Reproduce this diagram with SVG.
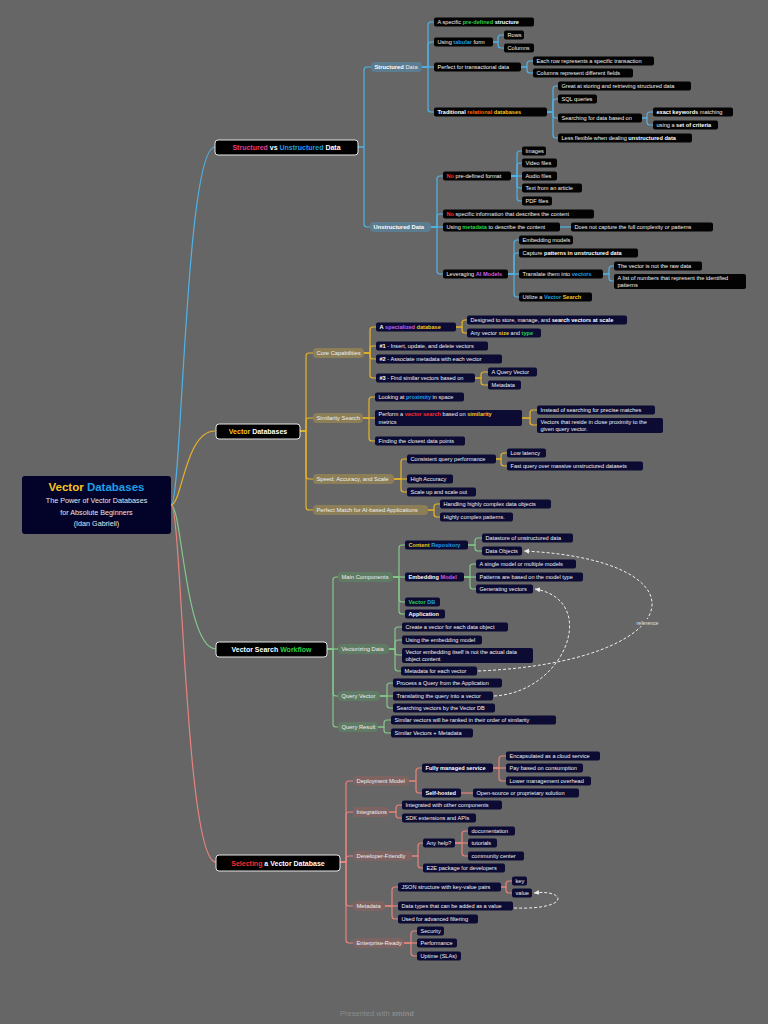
<svg xmlns="http://www.w3.org/2000/svg" width="768" height="1024" viewBox="0 0 768 1024">
<style>
.t{font-family:"Liberation Sans",Arial,sans-serif;font-size:5.6px;fill:#f2f2f2}
.p{font-family:"Liberation Sans",Arial,sans-serif;font-size:5.8px;fill:#eeeeee}
.m{font-family:"Liberation Sans",Arial,sans-serif;font-size:7px;font-weight:bold;fill:#ffffff}
.b{font-weight:bold;fill:#ffffff}
.cy{fill:#f7c51e;font-weight:bold}
.cb{fill:#1e9fe6;font-weight:bold}
.cg{fill:#2bd14a;font-weight:bold}
.cr{fill:#ff2d2d;font-weight:bold}
.co{fill:#ff6a00;font-weight:bold}
.cp{fill:#c65ee6;font-weight:bold}
.cm{fill:#e23c85;font-weight:bold}
rect.k{fill:#030303;rx:2px}
rect.v{fill:#0b0b33;rx:2px}
rect.top{fill:#000;stroke:#e6e6e6;stroke-width:1;rx:3px}
rect.pb{fill:#5c7c90;rx:4px}
rect.py{fill:#8c7e57;rx:4px}
rect.pg{fill:#5f7b63;rx:4px}
rect.pr{fill:#7d6463;rx:4px}
.cn path{fill:none;stroke-width:1.2}
.lb path{stroke:#4fb3e8}
.ly path{stroke:#e6b325}
.lg path{stroke:#83c98c}
.lr path{stroke:#e8837d}
.rel path{fill:none;stroke:#eeeeee;stroke-width:1;stroke-dasharray:3 2}
</style>
<defs>
<marker id="ah" markerWidth="6" markerHeight="6" refX="5" refY="3" orient="auto" markerUnits="userSpaceOnUse">
<path d="M0,0.5 L5,3 L0,5.5 Z" fill="#eeeeee"/>
</marker>
</defs>
<rect x="0" y="0" width="768" height="1024" fill="#666666"/>

<g id="connectors" class="cn">
<g class="lb">
<path d="M171,505 C182,505 185,147 215,147"/>
<path d="M358,147 H364 V70 Q364,67 367,67 H371"/>
<path d="M358,147 H364 V224 Q364,227 367,227 H370"/>
<path d="M422,67 H428 V25 Q428,22 431,22 H434"/>
<path d="M422,67 H428 V45 Q428,42 431,42 H434"/>
<path d="M422,67 H434"/>
<path d="M422,67 H428 V109 Q428,112 431,112 H434"/>
<path d="M493,42 H498 V38 Q498,35 501,35 H504"/>
<path d="M493,42 H498 V45 Q498,48 501,48 H504"/>
<path d="M521,67 H527 V64 Q527,61 530,61 H533"/>
<path d="M521,67 H527 V70 Q527,73 530,73 H533"/>
<path d="M547,112 H553 V89 Q553,86 556,86 H558"/>
<path d="M547,112 H553 V102 Q553,99 556,99 H558"/>
<path d="M547,112 H553 V115 Q553,118 556,118 H558"/>
<path d="M547,112 H553 V135 Q553,138 556,138 H558"/>
<path d="M642,118 H647 V115 Q647,112 650,112 H653"/>
<path d="M642,118 H647 V122 Q647,125 650,125 H653"/>
<path d="M431,227 H437 V179 Q437,176 440,176 H443"/>
<path d="M431,227 H437 V217 Q437,214 440,214 H443"/>
<path d="M431,227 H443"/>
<path d="M431,227 H437 V271 Q437,274 440,274 H443"/>
<path d="M511,176 H517 V154 Q517,151 520,151 H522"/>
<path d="M511,176 H517 V166 Q517,163 520,163 H522"/>
<path d="M511,176 H522"/>
<path d="M511,176 H517 V185 Q517,188 520,188 H522"/>
<path d="M511,176 H517 V198 Q517,201 520,201 H522"/>
<path d="M560,227 H571"/>
<path d="M508,274 H514 V243 Q514,240 517,240 H519"/>
<path d="M508,274 H514 V256 Q514,253 517,253 H519"/>
<path d="M508,274 H519"/>
<path d="M508,274 H514 V294 Q514,297 517,297 H519"/>
<path d="M603,274 H609 V269 Q609,266 612,266 H614"/>
<path d="M603,274 H609 V278 Q609,281 612,281 H614"/>
</g>
<g class="ly">
<path d="M171,505 C182,505 185,431 215,431"/>
<path d="M300,431 H306 V356 Q306,353 309,353 H313"/>
<path d="M300,431 H306 V421 Q306,418 309,418 H313"/>
<path d="M300,431 H306 V476 Q306,479 309,479 H313"/>
<path d="M300,431 H306 V507 Q306,510 309,510 H313"/>
<path d="M364,353 H370 V330 Q370,327 373,327 H376"/>
<path d="M364,353 H370 V349 Q370,346 373,346 H376"/>
<path d="M364,353 H370 V356 Q370,359 373,359 H376"/>
<path d="M364,353 H370 V375 Q370,378 373,378 H376"/>
<path d="M456,327 H462 V323 Q462,320 465,320 H467"/>
<path d="M456,327 H462 V330 Q462,333 465,333 H467"/>
<path d="M475,378 H481 V375 Q481,372 484,372 H488"/>
<path d="M475,378 H481 V382 Q481,385 484,385 H488"/>
<path d="M363,418 H369 V400 Q369,397 372,397 H375"/>
<path d="M363,418 H375"/>
<path d="M363,418 H369 V438 Q369,441 372,441 H375"/>
<path d="M522,418 H530 V413 Q530,410 533,410 H537"/>
<path d="M522,418 H530 V422 Q530,425 533,425 H537"/>
<path d="M394,479 H401 V462 Q401,459 404,459 H407"/>
<path d="M394,479 H407"/>
<path d="M394,479 H401 V489 Q401,492 404,492 H407"/>
<path d="M496,459 H501 V456 Q501,453 504,453 H507"/>
<path d="M496,459 H501 V463 Q501,466 504,466 H507"/>
<path d="M428,510 H434 V507 Q434,504 437,504 H440"/>
<path d="M428,510 H434 V514 Q434,517 437,517 H440"/>
</g>
<g class="lg">
<path d="M171,505 C182,505 185,649 216,649"/>
<path d="M327,649 H333 V580 Q333,577 336,577 H338"/>
<path d="M327,649 H338"/>
<path d="M327,649 H333 V693 Q333,696 336,696 H338"/>
<path d="M327,649 H333 V724 Q333,727 336,727 H338"/>
<path d="M393,577 H399 V548 Q399,545 402,545 H405"/>
<path d="M393,577 H405"/>
<path d="M393,577 H399 V599 Q399,602 402,602 H405"/>
<path d="M393,577 H399 V611 Q399,614 402,614 H405"/>
<path d="M468,545 H475 V541 Q475,538 478,538 H482"/>
<path d="M468,545 H475 V548 Q475,551 478,551 H482"/>
<path d="M464,577 H470 V567 Q470,564 473,564 H476"/>
<path d="M464,577 H476"/>
<path d="M464,577 H470 V586 Q470,589 473,589 H476"/>
<path d="M389,649 H395 V630 Q395,627 398,627 H402"/>
<path d="M389,649 H395 V643 Q395,640 398,640 H402"/>
<path d="M389,649 H395 V652 Q395,655 398,655 H402"/>
<path d="M389,649 H395 V668 Q395,671 398,671 H401"/>
<path d="M380,696 H387 V686 Q387,683 390,683 H393"/>
<path d="M380,696 H393"/>
<path d="M380,696 H387 V705 Q387,708 390,708 H393"/>
<path d="M378,727 H384 V723 Q384,720 387,720 H391"/>
<path d="M378,727 H384 V730 Q384,733 387,733 H391"/>
</g>
<g class="lr">
<path d="M171,505 C182,505 185,862 216,862"/>
<path d="M340,862 H346 V784 Q346,781 349,781 H353"/>
<path d="M340,862 H346 V815 Q346,812 349,812 H353"/>
<path d="M340,862 H346 V859 Q346,856 349,856 H353"/>
<path d="M340,862 H346 V903 Q346,906 349,906 H353"/>
<path d="M340,862 H346 V940 Q346,943 349,943 H353"/>
<path d="M409,781 H416 V771 Q416,768 419,768 H422"/>
<path d="M409,781 H416 V790 Q416,793 419,793 H422"/>
<path d="M493,768 H499 V759 Q499,756 502,756 H506"/>
<path d="M493,768 H506"/>
<path d="M493,768 H499 V778 Q499,781 502,781 H506"/>
<path d="M461,793 H473"/>
<path d="M389,812 H396 V808 Q396,805 399,805 H402"/>
<path d="M389,812 H396 V815 Q396,818 399,818 H402"/>
<path d="M412,856 H418 V846 Q418,843 421,843 H423"/>
<path d="M412,856 H418 V865 Q418,868 421,868 H423"/>
<path d="M455,843 H462 V834 Q462,831 465,831 H468"/>
<path d="M455,843 H468"/>
<path d="M455,843 H462 V853 Q462,856 465,856 H468"/>
<path d="M385,906 H392 V890 Q392,887 395,887 H398"/>
<path d="M385,906 H398"/>
<path d="M385,906 H392 V916 Q392,919 395,919 H398"/>
<path d="M501,887 H506 V884 Q506,881 509,881 H512"/>
<path d="M501,887 H506 V890 Q506,893 509,893 H512"/>
<path d="M404,943 H411 V934 Q411,931 414,931 H417"/>
<path d="M404,943 H417"/>
<path d="M404,943 H411 V953 Q411,956 414,956 H417"/>
</g>
</g>

<g id="relations" class="rel">
<path d="M478,671 C690,662 712,560 524,551" marker-end="url(#ah)"/>
<path d="M494,696 C566,692 600,600 535,589" marker-end="url(#ah)"/>
<path d="M514,908 C572,910 566,889 534,893" marker-end="url(#ah)"/>
<rect x="634" y="619" width="27" height="7" fill="#666666"/>
<text x="647.5" y="624.5" text-anchor="middle" style="font-family:'Liberation Sans',Arial,sans-serif;font-size:5.2px;fill:#e0e0e0">reference</text>
</g>

<g id="root">
<rect x="22" y="476" width="149" height="58" rx="3" fill="#03032a"/>
<text x="96.5" y="491" text-anchor="middle" style="font-family:'Liberation Sans',Arial,sans-serif;font-size:11.5px;font-weight:bold"><tspan fill="#f7c51e">Vector</tspan><tspan fill="#1e9fe6"> Databases</tspan></text>
<text x="96.5" y="502.5" text-anchor="middle" style="font-family:'Liberation Sans',Arial,sans-serif;font-size:7.2px;fill:#e8e8e8">The Power of Vector Databases</text>
<text x="96.5" y="514.5" text-anchor="middle" style="font-family:'Liberation Sans',Arial,sans-serif;font-size:7.2px;fill:#e8e8e8">for Absolute Beginners</text>
<text x="96.5" y="525.5" text-anchor="middle" style="font-family:'Liberation Sans',Arial,sans-serif;font-size:7.2px;fill:#e8e8e8">(Idan Gabrieli)</text>
</g>

<g id="t-structured"><rect class="top" x="215" y="140" width="143" height="15"/><text class="m" x="286.5" y="150" text-anchor="middle"><tspan class="cm">Structured</tspan> vs <tspan class="cb">Unstructured</tspan> Data</text></g>
<g id="t-vdb"><rect class="top" x="216" y="424" width="84" height="15"/><text class="m" x="258" y="434" text-anchor="middle"><tspan class="cy">Vector</tspan> Databases</text></g>
<g id="t-workflow"><rect class="top" x="216" y="642" width="111" height="15"/><text class="m" x="271.5" y="652" text-anchor="middle">Vector Search <tspan class="cg">Workflow</tspan></text></g>
<g id="t-selecting"><rect class="top" x="216" y="855" width="124" height="16"/><text class="m" x="278" y="865.5" text-anchor="middle"><tspan class="cr">Selecting</tspan> a Vector Database</text></g>

<g id="s-structured"><rect class="pb" x="371" y="62" width="51" height="10"/><text class="p" x="374.5" y="69"><tspan class="b">Structured</tspan> Data</text></g>
<g id="s-unstructured"><rect class="pb" x="370" y="222" width="61" height="10"/><text class="p" x="373.5" y="229"><tspan class="b">Unstructured Data</tspan></text></g>

<g id="n1"><rect class="k" x="434" y="17.5" width="100" height="9"/><text class="t" x="437.5" y="24">A specific <tspan class="cg">pre-defined</tspan> <tspan class="b">structure</tspan></text></g>
<g id="n2"><rect class="k" x="434" y="37.5" width="59" height="9"/><text class="t" x="437.5" y="44">Using <tspan class="cb">tabular</tspan> form</text></g>
<g id="n3"><rect class="k" x="504" y="30.5" width="20" height="9"/><text class="t" x="507.5" y="37">Rows</text></g>
<g id="n4"><rect class="k" x="504" y="43.5" width="30" height="9"/><text class="t" x="507.5" y="50">Columns</text></g>
<g id="n5"><rect class="k" x="434" y="62.5" width="87" height="9"/><text class="t" x="437.5" y="69">Perfect for transactional data</text></g>
<g id="n6"><rect class="k" x="533" y="56.5" width="121" height="9"/><text class="t" x="536.5" y="63">Each row represents a specific transaction</text></g>
<g id="n7"><rect class="k" x="533" y="68.5" width="100" height="9"/><text class="t" x="536.5" y="75">Columns represent different fields</text></g>
<g id="n8"><rect class="k" x="434" y="107.5" width="113" height="9"/><text class="t" x="437.5" y="114"><tspan class="b">Traditional</tspan> <tspan class="co">relational</tspan> <tspan class="cy">databases</tspan></text></g>
<g id="n9"><rect class="k" x="558" y="81.5" width="133" height="9"/><text class="t" x="561.5" y="88">Great at storing and retrieving structured data</text></g>
<g id="n10"><rect class="k" x="558" y="94.5" width="39" height="9"/><text class="t" x="561.5" y="101">SQL queries</text></g>
<g id="n11"><rect class="k" x="558" y="113.5" width="84" height="9"/><text class="t" x="561.5" y="120">Searching for data based on</text></g>
<g id="n12"><rect class="k" x="653" y="107.5" width="80" height="9"/><text class="t" x="656.5" y="114"><tspan class="b">exact keywords</tspan> matching</text></g>
<g id="n13"><rect class="k" x="653" y="120.5" width="65" height="9"/><text class="t" x="656.5" y="127">using a <tspan class="b">set of criteria</tspan></text></g>
<g id="n14"><rect class="k" x="558" y="133.5" width="134" height="9"/><text class="t" x="561.5" y="140">Less flexible when dealing <tspan class="b">unstructured data</tspan></text></g>
<g id="n15"><rect class="k" x="443" y="171.5" width="68" height="9"/><text class="t" x="446.5" y="178"><tspan class="cr">No</tspan> pre-defined format</text></g>
<g id="n16"><rect class="k" x="522" y="146.5" width="24" height="9"/><text class="t" x="525.5" y="153">Images</text></g>
<g id="n17"><rect class="k" x="522" y="158.5" width="35" height="9"/><text class="t" x="525.5" y="165">Video files</text></g>
<g id="n18"><rect class="k" x="522" y="171.5" width="35" height="9"/><text class="t" x="525.5" y="178">Audio files</text></g>
<g id="n19"><rect class="k" x="522" y="183.5" width="60" height="9"/><text class="t" x="525.5" y="190">Text from an article</text></g>
<g id="n20"><rect class="k" x="522" y="196.5" width="30" height="9"/><text class="t" x="525.5" y="203">PDF files</text></g>
<g id="n21"><rect class="k" x="443" y="209.5" width="151" height="9"/><text class="t" x="446.5" y="216"><tspan class="cr">No</tspan> specific information that describes the content</text></g>
<g id="n22"><rect class="k" x="443" y="222.5" width="117" height="9"/><text class="t" x="446.5" y="229">Using <tspan class="cg">metadata</tspan> to describe the content</text></g>
<g id="n23"><rect class="k" x="571" y="222.5" width="142" height="9"/><text class="t" x="574.5" y="229">Does not capture the full complexity or patterns</text></g>
<g id="n24"><rect class="k" x="443" y="269.5" width="65" height="9"/><text class="t" x="446.5" y="276">Leveraging <tspan class="cp">AI Models</tspan></text></g>
<g id="n25"><rect class="k" x="519" y="235.5" width="54" height="9"/><text class="t" x="522.5" y="242">Embedding models</text></g>
<g id="n26"><rect class="k" x="519" y="248.5" width="119" height="9"/><text class="t" x="522.5" y="255">Capture <tspan class="b">patterns in unstructured data</tspan></text></g>
<g id="n27"><rect class="k" x="519" y="269.5" width="84" height="9"/><text class="t" x="522.5" y="276">Translate them into <tspan class="cb">vectors</tspan></text></g>
<g id="n28"><rect class="k" x="614" y="261.5" width="88" height="9"/><text class="t" x="617.5" y="268">The vector is not the raw data</text></g>
<g id="n29"><rect class="k" x="614" y="274" width="132" height="15"/><text class="t" x="617.5" y="280">A list of numbers that represent the identified</text><text class="t" x="617.5" y="287">patterns</text></g>
<g id="n30"><rect class="k" x="519" y="292.5" width="73" height="9"/><text class="t" x="522.5" y="299">Utilize a <tspan class="cb">Vector</tspan> <tspan class="cy">Search</tspan></text></g>

<g id="y-core"><rect class="py" x="313" y="348" width="51" height="10"/><text class="p" x="316.5" y="355">Core Capabilities</text></g>
<g id="y-sim"><rect class="py" x="313" y="413" width="50" height="10"/><text class="p" x="316.5" y="420">Similarity Search</text></g>
<g id="y-speed"><rect class="py" x="313" y="474" width="81" height="10"/><text class="p" x="316.5" y="481">Speed, Accuracy, and Scale</text></g>
<g id="y-match"><rect class="py" x="313" y="505" width="115" height="10"/><text class="p" x="316.5" y="512">Perfect Match for AI-based Applications</text></g>

<g id="v1"><rect class="v" x="376" y="322.5" width="80" height="9"/><text class="t" x="379.5" y="329"><tspan class="b">A</tspan> <tspan class="cp">specialized</tspan> <tspan class="cy">database</tspan></text></g>
<g id="v2"><rect class="v" x="467" y="315.5" width="160" height="9"/><text class="t" x="470.5" y="322">Designed to store, manage, and <tspan class="b">search vectors at scale</tspan></text></g>
<g id="v3"><rect class="v" x="467" y="328.5" width="74" height="9"/><text class="t" x="470.5" y="335">Any vector <tspan class="cy">size</tspan> and <tspan class="cg">type</tspan></text></g>
<g id="v4"><rect class="v" x="376" y="341.5" width="112" height="9"/><text class="t" x="379.5" y="348"><tspan class="b">#1</tspan> - Insert, update, and delete vectors</text></g>
<g id="v5"><rect class="v" x="376" y="354.5" width="126" height="9"/><text class="t" x="379.5" y="361"><tspan class="b">#2</tspan> - Associate metadata with each vector</text></g>
<g id="v6"><rect class="v" x="376" y="373.5" width="99" height="9"/><text class="t" x="379.5" y="380"><tspan class="b">#3</tspan> - Find similar vectors based on</text></g>
<g id="v7"><rect class="v" x="488" y="367.5" width="49" height="9"/><text class="t" x="491.5" y="374">A Query Vector</text></g>
<g id="v8"><rect class="v" x="488" y="380.5" width="33" height="9"/><text class="t" x="491.5" y="387">Metadata</text></g>
<g id="v9"><rect class="v" x="375" y="392.5" width="89" height="9"/><text class="t" x="378.5" y="399">Looking at <tspan class="cb">proximity</tspan> in space</text></g>
<g id="v10"><rect class="v" x="375" y="410" width="147" height="16"/><text class="t" x="378.5" y="416">Perform a <tspan class="cr">vector search</tspan> based on <tspan class="cy">similarity</tspan></text><text class="t" x="378.5" y="423.5">metrics</text></g>
<g id="v11"><rect class="v" x="537" y="405.5" width="118" height="9"/><text class="t" x="540.5" y="412">Instead of searching for precise matches</text></g>
<g id="v12"><rect class="v" x="537" y="418" width="126" height="15"/><text class="t" x="540.5" y="424">Vectors that reside in close proximity to the</text><text class="t" x="540.5" y="431">given query vector.</text></g>
<g id="v13"><rect class="v" x="375" y="436.5" width="90" height="9"/><text class="t" x="378.5" y="443">Finding the closest data points</text></g>
<g id="v14"><rect class="v" x="407" y="454.5" width="89" height="9"/><text class="t" x="410.5" y="461">Consistent query performance</text></g>
<g id="v15"><rect class="v" x="507" y="448.5" width="39" height="9"/><text class="t" x="510.5" y="455">Low latency</text></g>
<g id="v16"><rect class="v" x="507" y="461.5" width="136" height="9"/><text class="t" x="510.5" y="468">Fast query over massive unstructured datasets</text></g>
<g id="v17"><rect class="v" x="407" y="474.5" width="46" height="9"/><text class="t" x="410.5" y="481">High Accuracy</text></g>
<g id="v18"><rect class="v" x="407" y="487.5" width="69" height="9"/><text class="t" x="410.5" y="494">Scale up and scale out</text></g>
<g id="v19"><rect class="v" x="440" y="499.5" width="111" height="9"/><text class="t" x="443.5" y="506">Handling highly complex data objects</text></g>
<g id="v20"><rect class="v" x="440" y="512.5" width="73" height="9"/><text class="t" x="443.5" y="519">Highly complex patterns.</text></g>

<g id="g-main"><rect class="pg" x="338" y="572" width="55" height="10"/><text class="p" x="341.5" y="579">Main Components</text></g>
<g id="g-vect"><rect class="pg" x="338" y="644" width="51" height="10"/><text class="p" x="341.5" y="651">Vectorizing Data</text></g>
<g id="g-qv"><rect class="pg" x="338" y="691" width="42" height="10"/><text class="p" x="341.5" y="698">Query Vector</text></g>
<g id="g-qr"><rect class="pg" x="338" y="722" width="40" height="10"/><text class="p" x="341.5" y="729">Query Result</text></g>

<g id="w1"><rect class="v" x="405" y="540.5" width="63" height="9"/><text class="t" x="408.5" y="547"><tspan class="cy">Content</tspan> <tspan class="cb">Repository</tspan></text></g>
<g id="w2"><rect class="v" x="482" y="533.5" width="91" height="9"/><text class="t" x="485.5" y="540">Datastore of unstructured data</text></g>
<g id="w3"><rect class="v" x="482" y="546.5" width="40" height="9"/><text class="t" x="485.5" y="553">Data Objects</text></g>
<g id="w4"><rect class="v" x="405" y="572.5" width="59" height="9"/><text class="t" x="408.5" y="579"><tspan class="b">Embedding</tspan> <tspan class="cp">Model</tspan></text></g>
<g id="w5"><rect class="v" x="476" y="559.5" width="100" height="9"/><text class="t" x="479.5" y="566">A single model or multiple models</text></g>
<g id="w6"><rect class="v" x="476" y="572.5" width="107" height="9"/><text class="t" x="479.5" y="579">Patterns are based on the model type</text></g>
<g id="w7"><rect class="v" x="476" y="584.5" width="57" height="9"/><text class="t" x="479.5" y="591">Generating vectors</text></g>
<g id="w8"><rect class="v" x="405" y="597.5" width="35" height="9"/><text class="t" x="408.5" y="604"><tspan class="cg">Vector</tspan> <tspan class="cb">DB</tspan></text></g>
<g id="w9"><rect class="v" x="405" y="609.5" width="40" height="9"/><text class="t" x="408.5" y="616"><tspan class="b">Application</tspan></text></g>
<g id="w10"><rect class="v" x="402" y="622.5" width="106" height="9"/><text class="t" x="405.5" y="629">Create a vector for each data object</text></g>
<g id="w11"><rect class="v" x="402" y="635.5" width="80" height="9"/><text class="t" x="405.5" y="642">Using the embedding model</text></g>
<g id="w12"><rect class="v" x="402" y="648" width="131" height="15"/><text class="t" x="405.5" y="654">Vector embedding itself is not the actual data</text><text class="t" x="405.5" y="661">object content</text></g>
<g id="w13"><rect class="v" x="401" y="666.5" width="76" height="9"/><text class="t" x="404.5" y="673">Metadata for each vector</text></g>
<g id="w14"><rect class="v" x="393" y="678.5" width="109" height="9"/><text class="t" x="396.5" y="685">Process a Query from the Application</text></g>
<g id="w15"><rect class="v" x="393" y="691.5" width="100" height="9"/><text class="t" x="396.5" y="698">Translating the query into a vector</text></g>
<g id="w16"><rect class="v" x="393" y="703.5" width="102" height="9"/><text class="t" x="396.5" y="710">Searching vectors by the Vector DB</text></g>
<g id="w17"><rect class="v" x="391" y="715.5" width="165" height="9"/><text class="t" x="394.5" y="722">Similar vectors will be ranked in their order of similarity</text></g>
<g id="w18"><rect class="v" x="391" y="728.5" width="82" height="9"/><text class="t" x="394.5" y="735">Similar Vectors + Metadata</text></g>

<g id="r-deploy"><rect class="pr" x="353" y="776" width="56" height="10"/><text class="p" x="356.5" y="783">Deployment Model</text></g>
<g id="r-integ"><rect class="pr" x="353" y="807" width="36" height="10"/><text class="p" x="356.5" y="814">Integrations</text></g>
<g id="r-dev"><rect class="pr" x="353" y="851" width="59" height="10"/><text class="p" x="356.5" y="858">Developer-Friendly</text></g>
<g id="r-meta"><rect class="pr" x="353" y="901" width="32" height="10"/><text class="p" x="356.5" y="908">Metadata</text></g>
<g id="r-ent"><rect class="pr" x="353" y="938" width="51" height="10"/><text class="p" x="356.5" y="945">Enterprise-Ready</text></g>

<g id="x1"><rect class="v" x="422" y="763.5" width="71" height="9"/><text class="t" x="425.5" y="770"><tspan class="b">Fully managed service</tspan></text></g>
<g id="x2"><rect class="v" x="506" y="751.5" width="94" height="9"/><text class="t" x="509.5" y="758">Encapsulated as a cloud service</text></g>
<g id="x3"><rect class="v" x="506" y="763.5" width="77" height="9"/><text class="t" x="509.5" y="770">Pay based on consumption</text></g>
<g id="x4"><rect class="v" x="506" y="776.5" width="85" height="9"/><text class="t" x="509.5" y="783">Lower management overhead</text></g>
<g id="x5"><rect class="v" x="422" y="788.5" width="39" height="9"/><text class="t" x="425.5" y="795"><tspan class="b">Self-hosted</tspan></text></g>
<g id="x6"><rect class="v" x="473" y="788.5" width="106" height="9"/><text class="t" x="476.5" y="795">Open-source or proprietary solution</text></g>
<g id="x7"><rect class="v" x="402" y="800.5" width="100" height="9"/><text class="t" x="405.5" y="807">Integrated with other components</text></g>
<g id="x8"><rect class="v" x="402" y="813.5" width="74" height="9"/><text class="t" x="405.5" y="820">SDK extensions and APIs</text></g>
<g id="x9"><rect class="v" x="423" y="838.5" width="32" height="9"/><text class="t" x="426.5" y="845">Any help?</text></g>
<g id="x10"><rect class="v" x="468" y="826.5" width="47" height="9"/><text class="t" x="471.5" y="833">documentation</text></g>
<g id="x11"><rect class="v" x="468" y="838.5" width="29" height="9"/><text class="t" x="471.5" y="845">tutorials</text></g>
<g id="x12"><rect class="v" x="468" y="851.5" width="56" height="9"/><text class="t" x="471.5" y="858">community center</text></g>
<g id="x13"><rect class="v" x="423" y="863.5" width="82" height="9"/><text class="t" x="426.5" y="870">E2E package for developers</text></g>
<g id="x14"><rect class="v" x="398" y="882.5" width="103" height="9"/><text class="t" x="401.5" y="889">JSON structure with key-value pairs</text></g>
<g id="x15"><rect class="v" x="512" y="876.5" width="15" height="9"/><text class="t" x="515.5" y="883">key</text></g>
<g id="x16"><rect class="v" x="512" y="888.5" width="20" height="9"/><text class="t" x="515.5" y="895">value</text></g>
<g id="x17"><rect class="v" x="398" y="901.5" width="115" height="9"/><text class="t" x="401.5" y="908">Data types that can be added as a value</text></g>
<g id="x18"><rect class="v" x="398" y="914.5" width="80" height="9"/><text class="t" x="401.5" y="921">Used for advanced filtering</text></g>
<g id="x19"><rect class="v" x="417" y="926.5" width="27" height="9"/><text class="t" x="420.5" y="933">Security</text></g>
<g id="x20"><rect class="v" x="417" y="938.5" width="40" height="9"/><text class="t" x="420.5" y="945">Performance</text></g>
<g id="x21"><rect class="v" x="417" y="951.5" width="44" height="9"/><text class="t" x="420.5" y="958">Uptime (SLAs)</text></g>

<text x="340" y="1016" style="font-family:'Liberation Sans',Arial,sans-serif;font-size:7.5px;fill:#8c8c8c">Presented with <tspan font-weight="bold">xmind</tspan></text>
</svg>
